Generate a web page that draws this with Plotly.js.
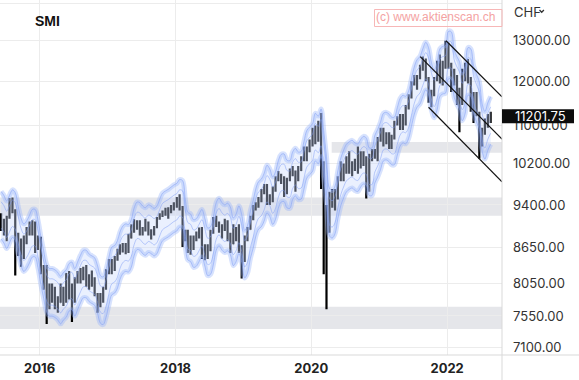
<!DOCTYPE html>
<html><head><meta charset="utf-8">
<script src="https://cdn.plot.ly/plotly-3.0.1.min.js"></script>
<style>html,body{margin:0;padding:0;background:#fff;}#chart{width:579px;height:380px;}</style>
</head><body><div id="chart"></div>
<script>
// ---- data (semi-monthly OHLC bars) ----
const dates = [
'2015-06-08','2015-06-23','2015-07-08','2015-07-23','2015-08-08','2015-08-23','2015-09-08','2015-09-23','2015-10-08','2015-10-23','2015-11-08','2015-11-23','2015-12-08','2015-12-23',
'2016-01-08','2016-01-23','2016-02-08','2016-02-23','2016-03-08','2016-03-23','2016-04-08','2016-04-23','2016-05-08','2016-05-23','2016-06-08','2016-06-23','2016-07-08','2016-07-23','2016-08-08','2016-08-23','2016-09-08','2016-09-23','2016-10-08','2016-10-23','2016-11-08','2016-11-23','2016-12-08','2016-12-23',
'2017-01-08','2017-01-23','2017-02-08','2017-02-23','2017-03-08','2017-03-23','2017-04-08','2017-04-23','2017-05-08','2017-05-23','2017-06-08','2017-06-23','2017-07-08','2017-07-23','2017-08-08','2017-08-23','2017-09-08','2017-09-23','2017-10-08','2017-10-23','2017-11-08','2017-11-23','2017-12-08','2017-12-23',
'2018-01-08','2018-01-23','2018-02-08','2018-02-23','2018-03-08','2018-03-23','2018-04-08','2018-04-23','2018-05-08','2018-05-23','2018-06-08','2018-06-23','2018-07-08','2018-07-23','2018-08-08','2018-08-23','2018-09-08','2018-09-23','2018-10-08','2018-10-23','2018-11-08','2018-11-23','2018-12-08','2018-12-23',
'2019-01-08','2019-01-23','2019-02-08','2019-02-23','2019-03-08','2019-03-23','2019-04-08','2019-04-23','2019-05-08','2019-05-23','2019-06-08','2019-06-23','2019-07-08','2019-07-23','2019-08-08','2019-08-23','2019-09-08','2019-09-23','2019-10-08','2019-10-23','2019-11-08','2019-11-23','2019-12-08','2019-12-23',
'2020-01-08','2020-01-23','2020-02-08','2020-02-23','2020-03-08','2020-03-23','2020-04-08','2020-04-23','2020-05-08','2020-05-23','2020-06-08','2020-06-23','2020-07-08','2020-07-23','2020-08-08','2020-08-23','2020-09-08','2020-09-23','2020-10-08','2020-10-23','2020-11-08','2020-11-23','2020-12-08','2020-12-23',
'2021-01-08','2021-01-23','2021-02-08','2021-02-23','2021-03-08','2021-03-23','2021-04-08','2021-04-23','2021-05-08','2021-05-23','2021-06-08','2021-06-23','2021-07-08','2021-07-23','2021-08-08','2021-08-23','2021-09-08','2021-09-23','2021-10-08','2021-10-23','2021-11-08','2021-11-23','2021-12-08','2021-12-23',
'2022-01-08','2022-01-23','2022-02-08','2022-02-23','2022-03-08','2022-03-23','2022-04-08','2022-04-23','2022-05-08','2022-05-23','2022-06-08','2022-06-23','2022-07-08','2022-07-23','2022-08-08','2022-08-23'];

const open = [
9150,8980,8950,9180,9430,9300,8850,8600,8500,8780,8950,8900,9050,8650,
8820,8300,8320,7700,7860,7950,7800,7750,7960,7800,8180,7900,7990,8100,8170,8250,8190,8100,8140,8050,7870,7750,7820,7980,
8220,8300,8280,8450,8580,8640,8660,8620,8810,9020,9050,9000,8910,8950,9020,8900,8930,9000,9160,9220,9240,9280,9320,9350,
9380,9500,9330,8800,8900,8750,8680,8800,8850,8950,8530,8600,8610,8900,9150,9050,9000,8950,9080,8800,8700,8950,8980,8650,
8430,8800,8960,9150,9380,9420,9480,9650,9780,9500,9480,9700,9900,9950,9920,9700,9900,10050,10040,9900,10060,10300,10500,10450,
10620,10900,10700,11050,9830,9000,9300,9500,9550,9600,9900,10050,10050,10300,10100,10150,10100,10350,10200,10300,9700,10300,10450,10400,
10700,10900,10650,10800,10550,10750,11050,11150,11150,11100,11400,11650,11950,12000,12100,12350,12450,12050,11650,11700,12050,12400,12150,12450,
12880,12400,12000,12050,11800,11500,12150,12400,12050,11600,11650,11250,10700,10900,11100,11150];
const high = [
9250,9150,9200,9530,9540,9320,8900,8800,8850,9000,9100,9120,9100,8850,
8830,8350,8350,8050,8050,8000,7850,8050,8000,8220,8250,8050,8150,8250,8300,8320,8350,8200,8260,8150,7900,7900,8000,8280,
8450,8450,8500,8620,8700,8720,8720,8880,9050,9140,9120,9120,9000,9150,9100,8960,9020,9180,9250,9300,9350,9360,9400,9450,
9550,9600,9380,8950,8950,8850,8850,8920,8990,9000,8700,8700,8950,9180,9200,9100,9050,9150,9120,8900,9050,9000,9050,8680,
8850,9000,9200,9400,9450,9550,9700,9800,9800,9600,9750,9950,10050,10000,9950,9920,10100,10150,10060,10150,10350,10550,10550,10700,
10950,11000,11100,11270,10250,9400,9650,9700,9700,9950,10250,10200,10350,10450,10250,10300,10550,10450,10450,10350,10400,10500,10500,10750,
10950,10950,10850,10850,10800,11100,11200,11250,11250,11450,11700,12000,12150,12150,12400,12600,12550,12100,11800,12100,12500,12650,12500,13000,
12950,12450,12300,12150,11850,12300,12450,12540,12100,11750,11750,11300,10950,11150,11250,11300];
const low = [
8930,8850,8750,9150,9250,8180,8500,8320,8450,8700,8850,8850,8550,8600,
8200,7950,7430,7650,7750,7650,7600,7750,7700,7750,7800,7460,7750,8050,8050,8100,8000,7950,8000,7850,7600,7680,7750,7950,
8200,8200,8250,8420,8520,8560,8530,8550,8800,8900,8950,8850,8850,8920,8850,8780,8850,8980,9130,9180,9200,9150,9250,9300,
9350,9300,8650,8750,8550,8520,8600,8750,8800,8450,8430,8450,8580,8880,9000,8900,8800,8930,8750,8550,8700,8750,8550,8130,
8400,8750,8950,9120,9300,9350,9450,9600,9400,9400,9450,9650,9850,9800,9550,9600,9850,9950,9650,9850,10050,10250,10250,10430,
10550,10600,10650,9700,8200,7650,8900,9350,9300,9500,9850,9850,10000,10000,9950,10050,10000,10100,10150,9520,9650,10250,10300,10250,
10650,10550,10600,10500,10500,10700,11000,10900,10900,11000,11350,11600,11900,11800,12050,12250,12000,11500,11400,11650,12000,11950,11900,12300,
12300,11750,11900,11450,10850,11450,12000,11950,11300,11050,11200,10300,10550,10800,10950,11050];
const close = [
8980,8950,9180,9430,9300,8850,8600,8500,8780,8950,8900,9050,8650,8820,
8300,8320,7700,7860,7950,7800,7750,7960,7800,8180,7900,7990,8100,8170,8250,8190,8100,8140,8050,7870,7750,7820,7980,8220,
8300,8280,8450,8580,8640,8660,8620,8810,9020,9050,9000,8910,8950,9020,8900,8930,9000,9160,9220,9240,9280,9320,9350,9380,
9500,9330,8800,8900,8750,8680,8800,8850,8950,8530,8600,8610,8900,9150,9050,9000,8950,9080,8800,8700,8950,8980,8650,8430,
8800,8960,9150,9380,9420,9480,9650,9780,9500,9480,9700,9900,9950,9920,9700,9900,10050,10040,9900,10060,10300,10500,10450,10620,
10900,10700,11050,9830,9000,9300,9500,9550,9600,9900,10050,10050,10300,10100,10150,10100,10350,10200,10300,9700,10300,10450,10400,10700,
10900,10650,10800,10550,10750,11050,11150,11150,11100,11400,11650,11950,12000,12100,12350,12450,12050,11650,11700,12050,12400,12150,12450,12880,
12400,12000,12050,11800,11500,12150,12400,12050,11600,11650,11250,10700,10900,11100,11150,11201.75];

// centre line of the envelope indicator
const envMid = [
9220,9150,9050,9150,9250,9200,8950,8750,8650,8700,8800,8900,8900,8720,
8430,8200,7980,7920,7920,7900,7860,7800,7860,7900,8000,8020,7920,8020,8130,8210,8210,8150,8120,8090,7960,7810,7790,7900,
8100,8260,8290,8370,8510,8610,8650,8640,8720,8920,9030,9020,8960,8930,8980,8960,8920,8960,9080,9190,9230,9260,9300,9340,
9370,9440,9420,9070,8850,8820,8720,8740,8820,8900,8740,8580,8600,8760,9020,9100,9020,8980,9010,8940,8750,8820,8960,8810,
8540,8620,8880,9060,9260,9400,9450,9560,9710,9640,9490,9590,9800,9920,9930,9810,9800,9970,10040,9970,9980,10180,10400,10470,
10540,10760,10700,10850,10400,9880,9280,9240,9320,9600,9850,10000,10120,10170,10200,10150,10130,10220,10280,10250,10050,10050,10300,10420,
10580,10760,10780,10740,10680,10680,10880,11080,11150,11130,11250,11520,11790,11960,12040,12220,12380,12250,11900,11720,11900,12220,12280,12300,
12650,12640,12200,12030,11920,11650,11820,12250,12220,11820,11620,11450,10970,10800,10990,11120];
const envOuterPct = 0.047;   // envelope width parameters
const envInnerPct = 0.026;

// grey support zones
const zoneLow   = [7360, 9200, 10420];
const zoneHigh  = [7690, 9540, 10645];
const zoneStart = ['2015-06-02', '2015-06-02', '2020-04-20'];

// trend channel lines
const trendStartDate = ['2021-12-26', '2021-08-09', '2021-09-23'];
const trendStartVal  = [13000, 12600, 11400];
const trendEndDate   = ['2022-10-23', '2022-10-23', '2022-10-23'];
const trendEndVal    = [11640, 10705, 9840];

// axis ticks
const yTickVals = [7100, 7550, 8050, 8650, 9400, 10200, 11000, 12000, 13000, 14000];
const yTickText = ['7100.00','7550.00','8050.00','8650.00','9400.00','10200.00','11000.00','12000.00','13000.00',''];
const lastPrice = 11201.75;
const lastPriceLabel = '11201.75';
const chartTitle = 'SMI';
const currencyLabel = 'CHF';
const watermark = '(c) www.aktienscan.ch';

// ---- layout geometry ----
const PW = 502, PH = 355;            // plot area in px
const xRange = ['2015-06-02', '2022-10-23'];
const yRange = [Math.log10(6990), Math.log10(14090)];
const px = v => v / PW;
const py = v => (PH - v) / PH;
const valToPaperY = v => (Math.log10(v) - yRange[0]) / (yRange[1] - yRange[0]);
const t0 = Date.parse(xRange[0]), t1 = Date.parse(xRange[1]);
const dateToPaperX = d => (Date.parse(d) - t0) / (t1 - t0);

const upperOuter = envMid.map(v => v * (1 + envOuterPct));
const lowerOuter = envMid.map(v => v * (1 - envOuterPct));
const upperInner = envMid.map(v => v * (1 + envInnerPct));
const lowerInner = envMid.map(v => v * (1 - envInnerPct));

const sp = {shape: 'spline', smoothing: 1};
const glow = 'rgba(150,178,250,0.38)';
const core = 'rgba(125,155,245,0.5)';
const traces = [
  {type:'scatter', mode:'lines', x:dates, y:lowerOuter, line:Object.assign({width:0, color:'rgba(0,0,0,0)'}, sp), hoverinfo:'skip'},
  {type:'scatter', mode:'lines', x:dates, y:upperOuter, fill:'tonexty', fillcolor:'rgba(200,215,252,0.38)', line:Object.assign({width:0, color:'rgba(0,0,0,0)'}, sp), hoverinfo:'skip'},
  {type:'scatter', mode:'lines', x:dates, y:upperOuter, line:Object.assign({width:5, color:glow}, sp), hoverinfo:'skip'},
  {type:'scatter', mode:'lines', x:dates, y:lowerOuter, line:Object.assign({width:5, color:glow}, sp), hoverinfo:'skip'},
  {type:'scatter', mode:'lines', x:dates, y:upperOuter, line:Object.assign({width:1, color:core}, sp), hoverinfo:'skip'},
  {type:'scatter', mode:'lines', x:dates, y:lowerOuter, line:Object.assign({width:1, color:core}, sp), hoverinfo:'skip'},
  {type:'scatter', mode:'lines', x:dates, y:upperInner, line:Object.assign({width:1, color:core}, sp), hoverinfo:'skip'},
  {type:'scatter', mode:'lines', x:dates, y:lowerInner, line:Object.assign({width:1, color:core}, sp), hoverinfo:'skip'},
  {type:'ohlc', x:dates, open:open, high:high, low:low, close:close, tickwidth:0.12,
   increasing:{line:{color:'#000', width:2.2}}, decreasing:{line:{color:'#000', width:2.2}}, hoverinfo:'skip'}
];
for (let i = 0; i < trendStartDate.length; i++) {
  traces.push({type:'scatter', mode:'lines', x:[trendStartDate[i], trendEndDate[i]], y:[trendStartVal[i], trendEndVal[i]],
    line:{color:'#111', width:1.2}, hoverinfo:'skip'});
}
traces.push({type:'scatter', mode:'text', x:[px(376)], y:[py(18)], xaxis:'x2', yaxis:'y2', text:[watermark],
  textposition:'middle right', cliponaxis:true, textfont:{family:'Liberation Sans, Arial, sans-serif', size:12, color:'#f4a2a2'}, hoverinfo:'skip'});

const shapes = [];
for (let i = 0; i < zoneLow.length; i++) {
  shapes.push({type:'rect', xref:'paper', yref:'paper', x0:Math.max(0, dateToPaperX(zoneStart[i])), x1:1,
    y0:valToPaperY(zoneLow[i]), y1:valToPaperY(zoneHigh[i]), fillcolor:'#e5e6ea', line:{width:0}, layer:'below'});
}
shapes.push({type:'line', xref:'paper', yref:'paper', x0:1, x1:1, y0:py(380), y1:1, line:{color:'#d9d9d9', width:1}, layer:'above'});
shapes.push({type:'line', xref:'paper', yref:'paper', x0:0, x1:px(579), y0:0, y1:0, line:{color:'#d9d9d9', width:1}, layer:'above'});
shapes.push({type:'rect', xref:'paper', yref:'paper', x0:px(374.5), x1:1, y0:py(26.5), y1:py(9.5), line:{color:'#f7b7b7', width:1}, fillcolor:'rgba(0,0,0,0)', layer:'above'});
const lp = valToPaperY(lastPrice);
shapes.push({type:'rect', xref:'paper', yref:'paper', x0:1, x1:px(574), y0:lp - 7/PH, y1:lp + 7/PH, fillcolor:'#0d0d0d', line:{width:0}, layer:'above'});
shapes.push({type:'path', xref:'paper', yref:'paper', path:`M ${px(539.5)} ${py(10)} L ${px(541.7)} ${py(12.3)} L ${px(543.9)} ${py(10)}`,
  line:{color:'#333', width:1.3}, layer:'above'});

const annotations = [
  {xref:'paper', yref:'paper', x:px(33), y:py(21), xanchor:'left', yanchor:'middle', text:chartTitle, showarrow:false,
   font:{family:'Liberation Sans, Arial, sans-serif', size:14, color:'#111', weight:'bold'}},
  {xref:'paper', yref:'paper', x:px(512), y:py(12), xanchor:'left', yanchor:'middle', text:currencyLabel, showarrow:false,
   font:{family:'Inter, Roboto, sans-serif', size:13, color:'#333'}},
  {xref:'paper', yref:'paper', x:px(513), y:lp, xanchor:'left', yanchor:'middle', text:lastPriceLabel, showarrow:false,
   font:{family:'Inter, Roboto, sans-serif', size:13, color:'#fff'}}
];

const layout = {
  width:579, height:380, margin:{l:0, r:77, t:0, b:25}, paper_bgcolor:'#fff', plot_bgcolor:'rgba(0,0,0,0)', showlegend:false,
  xaxis:{type:'date', range:xRange, rangeslider:{visible:false}, tick0:'2016-01-01', dtick:'M24', tickformat:'%Y',
    showgrid:true, gridcolor:'#ececec', gridwidth:1, zeroline:false, showline:false, ticks:'', ticklabelstandoff:4,
    tickfont:{family:'Inter, Roboto, sans-serif', size:13, color:'#222', weight:'bold'}, fixedrange:true},
  yaxis:{type:'log', side:'right', range:yRange, tickvals:yTickVals, ticktext:yTickText, showgrid:true, gridcolor:'#ececec',
    gridwidth:1, zeroline:false, showline:false, ticks:'', ticklabelstandoff:10,
    tickfont:{family:'Inter, Roboto, sans-serif', size:13, color:'#333'}, fixedrange:true},
  xaxis2:{overlaying:'x', anchor:'y2', range:[0,1], visible:false, fixedrange:true},
  yaxis2:{overlaying:'y', anchor:'x2', range:[0,1], visible:false, fixedrange:true},
  shapes:shapes, annotations:annotations
};
Plotly.newPlot('chart', traces, layout, {staticPlot:true, displayModeBar:false});
</script>
</body></html>
